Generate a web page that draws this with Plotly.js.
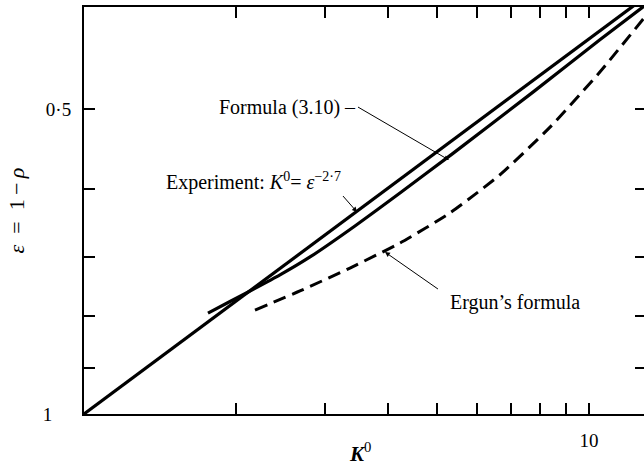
<!DOCTYPE html>
<html>
<head>
<meta charset="utf-8">
<script src="https://cdn.plot.ly/plotly-3.0.1.min.js"></script>
<style>
  html, body { margin: 0; padding: 0; overflow: hidden; background: #fff; }
  #chart { width: 648px; height: 475px; }
</style>
</head>
<body>
<div id="chart"></div>
<script>
// Experiment: K0 = eps^-2.7, a straight line on log-log axes
const expK   = [1, 12.97];
const expEps = [1, 0.3872];

// Formula (3.10)
const formulaK   = [1.760, 1.946, 2.181, 2.444, 2.803, 3.440, 4.224, 5.355, 7.747, 10.51, 12.85];
const formulaEps = [0.7950, 0.7744, 0.7517, 0.7290, 0.6998, 0.6522, 0.6050, 0.5539, 0.4811, 0.4272, 0.3957];

// Ergun's formula
const ergunK   = [2.181, 2.677, 3.363, 4.224, 5.306, 6.665, 8.373, 10.51, 12.85];
const ergunEps = [0.7896, 0.7560, 0.7176, 0.6780, 0.6332, 0.5805, 0.5210, 0.4596, 0.4066];

// Tick marks
const xTickVals  = [10];
const xTickText  = ['10'];
const xMinorVals = [2, 3, 4, 5, 6, 7, 8, 9];
const yTickVals  = [1, 0.5];
const yTickText  = ['1\u2003', '0·5'];
const yMinorVals = [0.9, 0.8, 0.7, 0.6];

const FONT = '"Liberation Serif", "Times New Roman", serif';
const INK = '#000';
const lg = Math.log10;

const traces = [
  { x: expK, y: expEps, mode: 'lines', line: { color: INK, width: 3.2 }, hoverinfo: 'skip' },
  { x: formulaK, y: formulaEps, mode: 'lines', line: { color: INK, width: 3.2, shape: 'spline', smoothing: 0.5 }, hoverinfo: 'skip' },
  { x: ergunK, y: ergunEps, mode: 'lines', line: { color: INK, width: 3, dash: '13px,7px', shape: 'spline', smoothing: 0.5 }, hoverinfo: 'skip' }
];

function axis(extra, minorVals) {
  return Object.assign({
    type: 'log',
    showline: true, linecolor: INK, linewidth: 2,
    mirror: 'ticks', ticks: 'inside', ticklen: 11, tickwidth: 2, tickcolor: INK,
    showgrid: false, zeroline: false, tickmode: 'array',
    tickfont: { family: FONT, size: 19, color: INK },
    minor: { tickmode: 'array', tickvals: minorVals, ticks: 'inside', ticklen: 11, tickwidth: 2, tickcolor: INK, showgrid: false }
  }, extra);
}

const arrow = { showarrow: true, arrowhead: 2, arrowsize: 1, arrowwidth: 1, arrowcolor: INK };
const labelFont = { family: FONT, size: 20, color: INK };

const layout = {
  width: 648, height: 475,
  margin: { l: 84, r: 2, t: 7, b: 61 },
  paper_bgcolor: '#fff', plot_bgcolor: '#fff',
  showlegend: false,
  font: { family: FONT, color: INK, size: 20 },
  xaxis: axis({
    range: [0, lg(12.97)],
    tickvals: xTickVals, ticktext: xTickText,
    ticklabelstandoff: 8
  }, xMinorVals),
  yaxis: axis({
    range: [0, -0.4018],
    tickvals: yTickVals, ticktext: yTickText,
    ticklabelstandoff: 7,
    title: { text: '<i>ε</i>\u2002=\u20021\u2009−\u2009<i>ρ</i>', font: { family: FONT, size: 22, color: INK }, standoff: 12 }
  }, yMinorVals),
  annotations: [
    // x-axis title
    { x: 0.491, y: -0.0934, xref: 'paper', yref: 'paper', yanchor: 'middle', showarrow: false,
      text: '<b><i>K</i></b><sup>0</sup>', font: { family: FONT, size: 21, color: INK } },
    // curve labels with leader arrows
    Object.assign({ x: 0.7228, y: -0.2507, xref: 'x', yref: 'y', ax: -91, ay: -53,
      xanchor: 'right', yanchor: 'middle', text: 'Formula (3.10) –', font: labelFont }, arrow),
    Object.assign({ x: 0.5406, y: -0.1994, xref: 'x', yref: 'y', ax: -14, ay: -16,
      xanchor: 'right', yanchor: 'bottom', text: 'Experiment: <i>K</i><sup>0</sup>= <i>ε</i><sup>−2·7</sup>', font: labelFont }, arrow),
    Object.assign({ x: 0.596, y: -0.1599, xref: 'x', yref: 'y', ax: 53, ay: 37,
      xanchor: 'left', yanchor: 'top', text: '\u2002Ergun’s formula', font: labelFont }, arrow)
  ]
};

Plotly.newPlot('chart', traces, layout, { staticPlot: true, displayModeBar: false });
</script>
</body>
</html>
